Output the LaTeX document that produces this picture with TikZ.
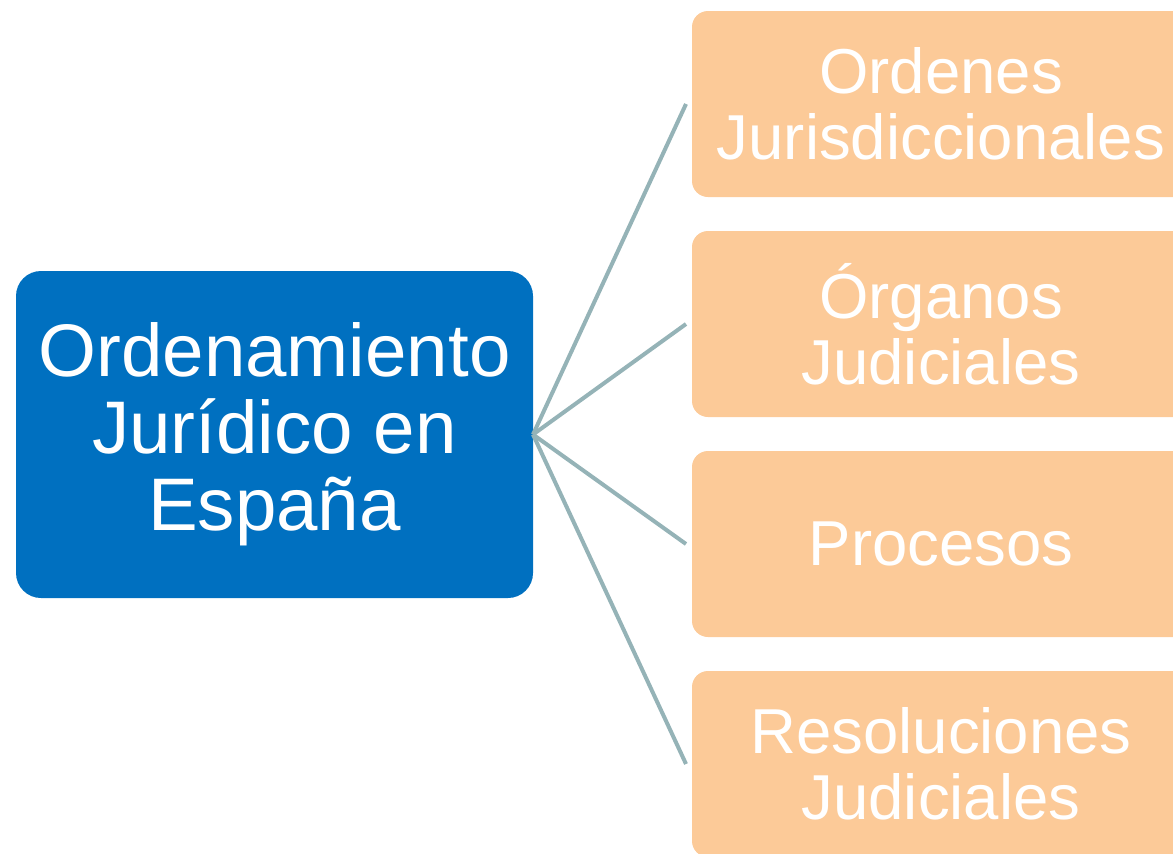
\documentclass[tikz,border=0pt]{standalone}
\usepackage{fontspec}
\setmainfont{Liberation Sans}
\usepackage{tikz}
\usetikzlibrary{positioning}

\definecolor{mainblue}{HTML}{0070C0}
\definecolor{subpeach}{HTML}{FCCA98}
\definecolor{linkgray}{HTML}{95B3B7}

\begin{document}
\begin{tikzpicture}[x=1pt,y=1pt]
  \newcommand{\boxgap}{220};
  \newcommand{\boxtop}{-104};
  \useasboundingbox (0,0) rectangle (1173,-854);
  \clip (0,0) rectangle (1173,-854);
  \tikzstyle{mainbox}=[rectangle, rounded corners=25pt, fill=mainblue, text=white,
    inner sep=0pt, outer sep=0pt, minimum width=517pt, minimum height=327pt,
    align=center, font=\fontsize{74.5}{77}\selectfont];
  \tikzstyle{subbox}=[rectangle, rounded corners=16pt, fill=subpeach, text=white,
    inner sep=0pt, outer sep=0pt, minimum width=498pt, minimum height=186pt,
    align=center, font=\fontsize{63.5}{66}\selectfont, anchor=west];
  \tikzstyle{link}=[draw=linkgray, line width=4pt];
  \node[mainbox] (ordenamiento) at (274.5,-434.5) {Ordenamiento\\Jurídico en\\España};
  \foreach \n/\t [count=\i from 0] in {ordenes/{Ordenes\\Jurisdiccionales},
      organos/{Órganos\\Judiciales}, procesos/{Procesos},
      resoluciones/{Resoluciones\\Judiciales}}{
    \node[subbox] (\n) at (692,\boxtop-\i*\boxgap) {\t};
    \draw[link] (ordenamiento.east) -- ([xshift=-6pt]\n.west);
  }
\end{tikzpicture}
\end{document}
